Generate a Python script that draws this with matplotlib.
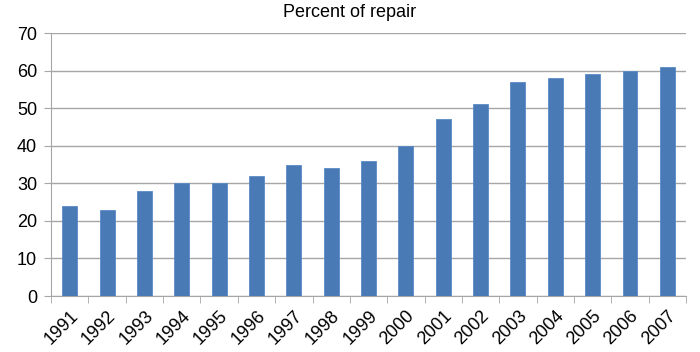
import matplotlib.pyplot as plt
import numpy as np

plt.rcParams['font.family'] = ['Liberation Sans', 'DejaVu Sans']

# data
years = ["1991", "1992", "1993", "1994", "1995", "1996", "1997", "1998", "1999",
         "2000", "2001", "2002", "2003", "2004", "2005", "2006", "2007"]
repair_pct = [24, 23, 28, 30, 30, 32, 35, 34, 36, 40, 47, 51, 57, 58, 59, 60, 61]

fig = plt.figure(figsize=(7, 3.52), dpi=100)
ax = fig.add_axes([0.073, 0.159, 0.907, 0.747])

x = np.arange(len(years))
ax.bar(x, repair_pct, width=0.4, color='#4a7ab5', edgecolor='#5b8ac4', linewidth=0.6, zorder=3)

ax.set_xlim(-0.5, len(years) - 0.5)
ax.set_ylim(0, 70)
ax.set_yticks(range(0, 71, 10))
ax.grid(axis='y', color='#a6a6a6', linewidth=1, zorder=0)

ax.set_xticks(x)
ax.set_xticklabels(years, rotation=45, ha='right', rotation_mode='anchor')
ax.set_xticks(np.arange(-0.5, len(years)), minor=True)
ax.tick_params(axis='x', which='major', length=0, pad=8, labelsize=13)
ax.tick_params(axis='x', which='minor', length=5, color='#a6a6a6')
ax.tick_params(axis='y', length=5, color='#a6a6a6', labelsize=13, pad=5)

for s in ['top', 'right']:
    ax.spines[s].set_visible(False)
for s in ['left', 'bottom']:
    ax.spines[s].set_color('#a6a6a6')

fig.suptitle('Percent of repair', y=0.99, fontsize=13)

fig.savefig('out.png', dpi=100)
